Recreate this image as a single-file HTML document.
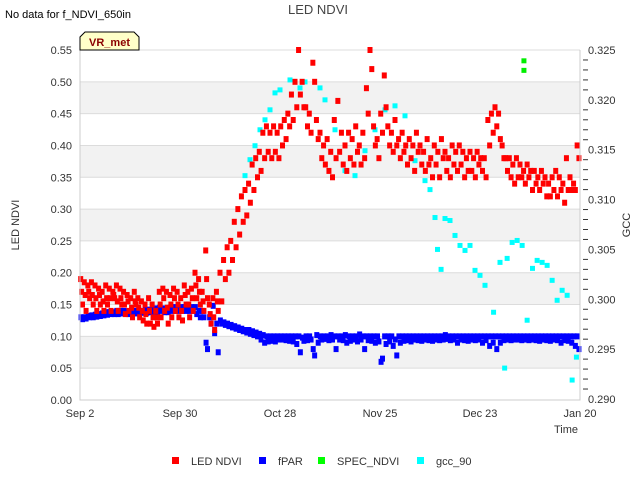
<!DOCTYPE html>
<html><head><meta charset="utf-8">
<style>
body{margin:0;background:#fff;font-family:"Liberation Sans",sans-serif;}
svg text{font-family:"Liberation Sans",sans-serif;}
</style></head>
<body>
<svg id="chart" width="640" height="480" xmlns="http://www.w3.org/2000/svg">
<rect width="640" height="480" fill="#fff"/>
<g id="bands"></g>
<g id="marks"></g>
<g id="axes"></g>
<text x="318" y="14" text-anchor="middle" font-size="13" fill="#444">LED NDVI</text>
<text x="5" y="18" font-size="11" fill="#000">No data for f_NDVI_650in</text>
<text transform="translate(19,225) rotate(-90)" text-anchor="middle" font-size="11" fill="#333">LED NDVI</text>
<text transform="translate(630,225) rotate(-90)" text-anchor="middle" font-size="11" fill="#333">GCC</text>
<text x="566" y="433" text-anchor="middle" font-size="11" fill="#333">Time</text>
<g>
<path d="M80,50 L80,37 L85,32 L134,32 L139,37 L139,50 Z" fill="#ffffc8" stroke="#000" stroke-width="1"/>
<text x="109.5" y="46" text-anchor="middle" font-size="11" font-weight="bold" fill="#8b0000">VR_met</text>
</g>
<g id="legend"></g>
</svg>
<script>
// ---- data ----
const ndviHigh=[0.19,0.185,0.18,0.185,0.18,0.175,0.17,0.18,0.175,0.17,0.18,0.175,0.17,0.165,0.16,0.17,0.16,0.155,0.15,0.16,0.15,0.14,0.17,0.175,0.17,0.165,0.175,0.17,0.16,0.18,0.17,0.175,0.2,0.19,0.17,0.235,0.15,0.16,0.17,0.2,0.22,0.24,0.25,0.28,0.3,0.32,0.33,0.34,0.37,0.38,0.39,0.42,0.43,0.42,0.43,0.42,0.43,0.44,0.45,0.48,0.5,0.55,0.5,0.46,0.45,0.53,0.44,0.42,0.4,0.41,0.39,0.44,0.47,0.42,0.4,0.42,0.41,0.43,0.4,0.42,0.49,0.55,0.43,0.41,0.45,0.51,0.43,0.42,0.44,0.41,0.42,0.4,0.41,0.4,0.42,0.4,0.39,0.41,0.38,0.4,0.39,0.41,0.39,0.38,0.4,0.39,0.4,0.39,0.38,0.39,0.38,0.39,0.38,0.38,0.44,0.45,0.46,0.45,0.4,0.38,0.38,0.37,0.38,0.37,0.36,0.37,0.36,0.36,0.35,0.36,0.35,0.34,0.35,0.36,0.35,0.34,0.38,0.35,0.34,0.4];
const ndviLow=[0.15,0.14,0.16,0.15,0.14,0.15,0.14,0.15,0.14,0.16,0.14,0.15,0.135,0.14,0.13,0.15,0.13,0.125,0.12,0.12,0.115,0.12,0.13,0.14,0.12,0.13,0.14,0.13,0.125,0.15,0.13,0.14,0.16,0.15,0.14,0.16,0.12,0.11,0.14,0.155,0.19,0.2,0.22,0.24,0.26,0.28,0.29,0.31,0.33,0.35,0.36,0.38,0.39,0.38,0.39,0.38,0.4,0.41,0.43,0.44,0.46,0.48,0.46,0.43,0.42,0.5,0.41,0.38,0.37,0.36,0.35,0.38,0.39,0.37,0.36,0.38,0.37,0.39,0.37,0.38,0.45,0.52,0.4,0.38,0.42,0.46,0.4,0.39,0.4,0.38,0.39,0.37,0.38,0.36,0.39,0.37,0.36,0.37,0.35,0.37,0.35,0.38,0.36,0.35,0.37,0.36,0.37,0.35,0.36,0.36,0.35,0.37,0.36,0.35,0.4,0.42,0.43,0.41,0.38,0.36,0.35,0.34,0.35,0.35,0.34,0.35,0.33,0.34,0.33,0.34,0.32,0.32,0.33,0.32,0.33,0.31,0.33,0.33,0.33,0.38];
const ndviMid=[0.17,0.165,0.17,0.165,0.16,0.165,0.155,0.16,0.16,0.165,0.155,0.16,0.15,0.155,0.145,0.155,0.145,0.14,0.135,0.14,0.13,0.13,0.15,0.16,0.145,0.15,0.16,0.15,0.14,0.165,0.15,0.16,0.18,0.17,0.155,0.19,0.135,0.13,0.155];
const fparA=[0.13,0.13,0.132,0.133,0.134,0.135,0.136,0.138,0.138,0.138,0.14,0.14,0.14,0.138,0.138,0.14,0.14,0.14,0.141,0.142,0.143,0.144,0.145,0.144,0.143,0.145,0.146,0.145,0.146,0.146,0.147,0.146,0.146,0.14,0.14,0.09,0.13,0.148,0.12,0.125,0.122,0.12,0.118,0.116,0.114,0.112,0.11,0.11,0.108,0.106,0.104,0.102,0.1,0.1,0.1,0.1,0.1,0.1,0.1,0.1,0.1,0.1,0.098,0.1,0.1,0.08,0.102,0.1,0.1,0.1,0.102,0.1,0.1,0.1,0.102,0.1,0.1,0.1,0.103,0.1,0.1,0.1,0.1,0.1,0.06,0.1,0.1,0.1,0.095,0.1,0.1,0.1,0.1,0.1,0.1,0.1,0.1,0.1,0.1,0.1,0.1,0.1,0.102,0.1,0.1,0.1,0.1,0.1,0.1,0.1,0.1,0.1,0.1,0.1,0.1,0.1,0.1,0.1,0.1,0.1,0.1,0.1,0.1,0.1,0.1,0.1,0.1,0.1,0.1,0.1,0.1,0.1,0.1,0.1,0.1,0.1,0.1,0.1,0.1,0.1];
const fparB=[0.127,0.128,0.13,0.13,0.131,0.132,0.133,0.134,0.135,0.135,0.135,0.136,0.136,0.135,0.135,0.136,0.136,0.137,0.137,0.138,0.138,0.139,0.14,0.138,0.138,0.14,0.14,0.14,0.14,0.14,0.14,0.14,0.135,0.13,0.13,0.08,0.12,0.105,0.075,0.12,0.118,0.116,0.114,0.112,0.11,0.108,0.106,0.104,0.102,0.1,0.095,0.09,0.092,0.093,0.092,0.095,0.095,0.094,0.093,0.092,0.088,0.075,0.093,0.094,0.095,0.07,0.09,0.095,0.096,0.094,0.095,0.08,0.095,0.094,0.09,0.093,0.095,0.092,0.095,0.08,0.094,0.093,0.09,0.092,0.065,0.088,0.092,0.085,0.07,0.09,0.093,0.094,0.092,0.095,0.094,0.093,0.095,0.094,0.093,0.095,0.094,0.095,0.096,0.094,0.095,0.09,0.095,0.094,0.093,0.095,0.094,0.095,0.09,0.094,0.085,0.09,0.08,0.09,0.094,0.095,0.094,0.095,0.095,0.094,0.095,0.094,0.095,0.094,0.093,0.095,0.094,0.093,0.095,0.094,0.09,0.094,0.093,0.09,0.085,0.08];
const gccDays=[46.2,47.6,49,50.4,51.8,53.2,54.6,56,58.8,61.6,63,67.2,68.6,71.4,74.2,77,79.8,82.6,85.4,88.2,91,93.8,96.6,98,99.4,100.1,101.1,102.2,103.6,105,106.4,107.8,109.2,110.6,112,113.4,115.8,117.6,118.9,119.6,121,122.4,123.8,125.2,126.7,128,129.4,130.8,132.2,133.6,135,136.4,137.8,139];
const gccVals=[0.3124,0.314,0.3154,0.317,0.318,0.319,0.3207,0.321,0.322,0.3212,0.3218,0.3212,0.32,0.317,0.3129,0.3124,0.3149,0.317,0.319,0.3194,0.3184,0.3139,0.3119,0.311,0.3082,0.305,0.303,0.3081,0.3079,0.3064,0.3054,0.3049,0.3054,0.3029,0.3024,0.3014,0.2987,0.3037,0.2931,0.3041,0.3057,0.3059,0.3054,0.2979,0.3031,0.3039,0.3037,0.3034,0.3019,0.2999,0.3009,0.3004,0.2919,0.2942];
const specDays=[124.3,124.3];
const specVals=[0.533,0.518];
const xTickLabels=["Sep 2","Sep 30","Oct 28","Nov 25","Dec 23","Jan 20"];
const xTickDays=[0,28,56,84,112,140];
const yTicks=[0,0.05,0.1,0.15,0.2,0.25,0.3,0.35,0.4,0.45,0.5,0.55];
const y2Ticks=[0.29,0.295,0.3,0.305,0.31,0.315,0.32,0.325];

// ---- scales ----
const X0=80,X1=580,Y0=400,Y1=50;
const x=d=>X0+d/140*(X1-X0);
const y=v=>Y0-v/0.55*(Y0-Y1);
const y2=v=>399-(v-0.29)/0.035*349;
const NS="http://www.w3.org/2000/svg";
function mk(tag,attrs,parent){const e=document.createElementNS(NS,tag);for(const k in attrs)e.setAttribute(k,attrs[k]);parent.appendChild(e);return e;}
const bands=document.getElementById('bands'),marks=document.getElementById('marks'),axes=document.getElementById('axes'),legend=document.getElementById('legend');

// bands and grid
for(let i=0;i<11;i++){
  const lo=yTicks[i],hi=yTicks[i+1];
  if(i%2===1){
    const r=mk('rect',{x:X0,y:y(hi),width:X1-X0,height:y(lo)-y(hi),fill:'#f2f2f2'},bands);
    
    
  }
}
yTicks.forEach(t=>{
  const l=mk('line',{x1:X0,x2:X1,y1:y(t),y2:y(t),stroke:'#dcdcdc','stroke-width':1},bands);
  
  
});
function sq(cx,cy,col,name,w,h){
  const r=mk('rect',{x:cx-w/2,y:cy-h/2,width:w,height:h,fill:col},marks);
  
  
}
// fPAR
fparA.forEach((v,i)=>sq(x(i+0.3),y(v),'#0000ff','fpar-point',5,6));
fparB.forEach((v,i)=>sq(x(i+0.7),y(v),'#0000ff','fpar-point',5,6));
// gcc
gccVals.forEach((v,i)=>sq(x(gccDays[i]),y2(v),'#00ffff','gcc-point',5,5));
// NDVI
ndviHigh.forEach((v,i)=>sq(x(i+0.2),y(v),'#ff0000','led-ndvi-point',5,6));
ndviLow.forEach((v,i)=>sq(x(i+0.7),y(v),'#ff0000','led-ndvi-point',5,6));
ndviMid.forEach((v,i)=>sq(x(i+0.45),y(v),'#ff0000','led-ndvi-point',5,6));
// spec
specVals.forEach((v,i)=>sq(x(specDays[i]),y(v),'#00ee00','spec-ndvi-point',5,5));

// axes
const ax=mk('path',{d:`M${X0},${Y1} L${X0},${Y0} L${X1},${Y0} L${X1},${Y1}`,fill:'none',stroke:'#ccc','stroke-width':1},axes);


yTicks.forEach(t=>{
  const tx=mk('text',{x:72,y:y(t)+4,'text-anchor':'end','font-size':11,fill:'#333'},axes);
  tx.textContent=t.toFixed(2);
  
  
});
for(let k=0;k<=35;k++){
  const v=0.29+k*0.001, major=k%5===0;
  const l=mk('line',{x1:X1+(major?0:3),x2:X1+(major?0:8),y1:y2(v),y2:y2(v),stroke:'#333','stroke-width':1},axes);
  
  
}
y2Ticks.forEach(t=>{
  const tx=mk('text',{x:588,y:y2(t)+4,'font-size':11,fill:'#333'},axes);
  tx.textContent=t.toFixed(3);
  
  
});
xTickLabels.forEach((s,i)=>{
  const tx=mk('text',{x:x(xTickDays[i]),y:417,'text-anchor':'middle','font-size':11,fill:'#333'},axes);
  tx.textContent=s;
  
  
});
// legend
const legNames=["LED NDVI","fPAR","SPEC_NDVI","gcc_90"];
const legCols=["#ff0000","#0000ff","#00ff00","#00ffff"];
const legX=[176,263,322,421];
legNames.forEach((n,i)=>{
  const g=mk('g',{},legend);
  
  
  mk('rect',{x:legX[i]-4,y:457,width:7,height:7,fill:legCols[i]},g);
  const t=mk('text',{x:legX[i]+15,y:465,'font-size':11,fill:'#333'},g);
  t.textContent=n;
});
</script>
</body></html>
